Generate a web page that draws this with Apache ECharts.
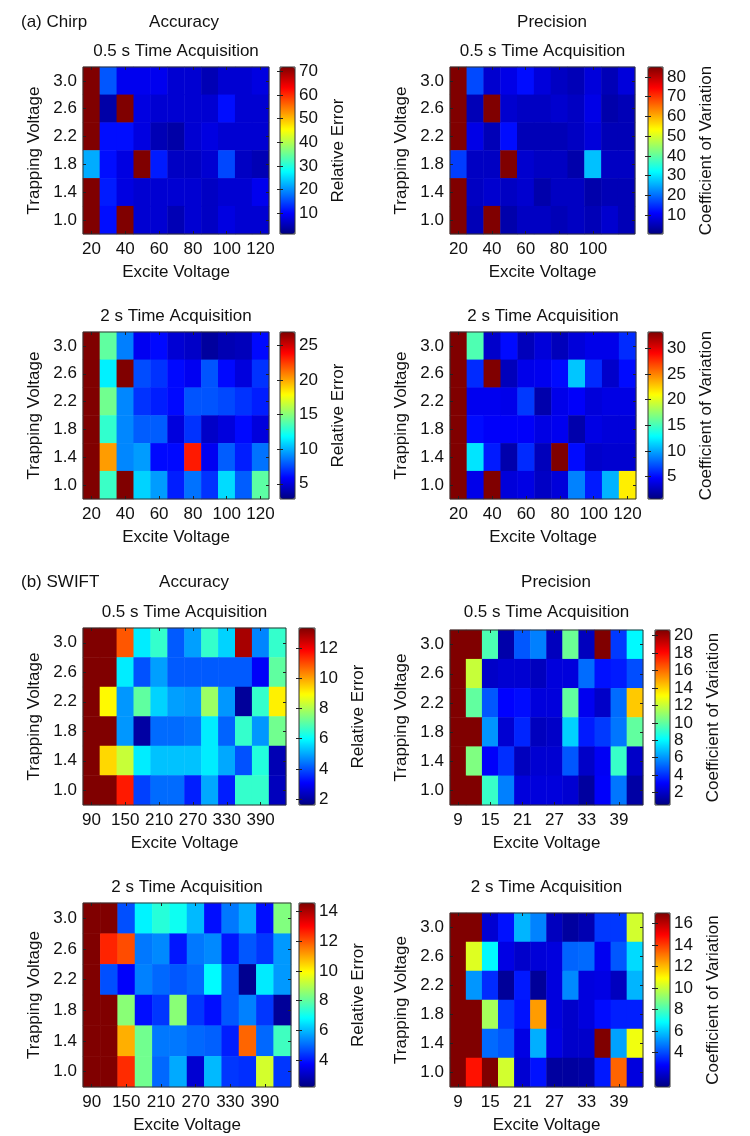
<!DOCTYPE html>
<html>
<head>
<meta charset="utf-8">
<script src="https://cdn.jsdelivr.net/npm/echarts@6/dist/echarts.min.js"></script>
<style>
  html, body { margin: 0; padding: 0; background: #fff; }
  #chart { width: 750px; height: 1136px; }
</style>
</head>
<body>
<div id="chart"></div>
<script>
// categories
const trapVoltages = ['1.0', '1.4', '1.8', '2.2', '2.6', '3.0'];
const chirpExcite = [20, 30, 40, 50, 60, 70, 80, 90, 100, 110, 120];
const swiftAccExcite = [90, 120, 150, 180, 210, 240, 270, 300, 330, 360, 390, 420];
const swiftPrecExcite = [9, 12, 15, 18, 21, 24, 27, 30, 33, 36, 39, 42];

// x tick labels
const chirpTicks = [20, 40, 60, 80, 100, 120];
const chirpPrecTicks05 = [20, 40, 60, 80, 100];
const swiftAccTicks = [90, 150, 210, 270, 330, 390];
const swiftPrecTicks = [9, 15, 21, 27, 33, 39];

// colour scales [min, max] and colorbar tick labels
const chirpAcc05Scale = [1.3, 71.8];
const chirpAcc05Bar = [10, 20, 30, 40, 50, 60, 70];
const chirpPrec05Scale = [0.4, 85];
const chirpPrec05Bar = [10, 20, 30, 40, 50, 60, 70, 80];
const chirpAcc2Scale = [2.8, 26.9];
const chirpAcc2Bar = [5, 10, 15, 20, 25];
const chirpPrec2Scale = [0.6, 33.2];
const chirpPrec2Bar = [5, 10, 15, 20, 25, 30];
const swiftAcc05Scale = [1.6, 13.35];
const swiftAcc05Bar = [2, 4, 6, 8, 10, 12];
const swiftPrec05Scale = [0.58, 20.65];
const swiftPrec05Bar = [2, 4, 6, 8, 10, 12, 14, 16, 18, 20];
const swiftAcc2Scale = [2.2, 14.57];
const swiftAcc2Bar = [4, 6, 8, 10, 12, 14];
const swiftPrec2Scale = [0.8, 17.0];
const swiftPrec2Bar = [4, 6, 8, 10, 12, 14, 16];

// values, rows from 3.0 V (top) down to 1.0 V (bottom)
const chirpAcc05 = [
    [71.8, 16, 9, 9, 9, 7, 7, 5, 7, 7, 8],
    [71.8, 4, 71.8, 8, 7, 7, 7, 7, 11, 7, 7],
    [71.8, 11, 11, 8, 5, 4, 7, 8, 7, 7, 7],
    [22, 11, 8, 71.8, 12, 6, 6, 7, 15, 6, 5],
    [71.8, 12, 8, 7, 7, 7, 7, 6, 7, 7, 9],
    [71.8, 11, 71.8, 7, 7, 5, 7, 6, 8, 7, 7]
];
const chirpPrec05 = [
    [85, 17, 7, 9, 12, 8, 6, 5, 8, 5, 8],
    [85, 5, 85, 7, 6, 6, 7, 6, 9, 4, 5],
    [85, 9, 5, 12, 5, 5, 5, 6, 8, 5, 5],
    [16, 6, 6, 85, 7, 6, 6, 4, 27, 6, 6],
    [85, 6, 7, 6, 7, 4, 6, 6, 4, 5, 5],
    [85, 5, 85, 4, 6, 6, 5, 6, 5, 7, 5]
];
const chirpAcc2 = [
    [26.9, 14.1, 8.8, 5.5, 6, 4.8, 4.5, 3.5, 4, 4.2, 6],
    [26.9, 11.5, 26.9, 7.6, 7, 6, 5.5, 7.8, 6, 5, 7],
    [26.9, 14.5, 9, 7, 6.5, 6, 7.8, 7.8, 7.5, 7, 6.5],
    [26.9, 13, 9, 8, 8, 5, 7, 4.5, 5, 6, 5],
    [26.9, 20.2, 9, 9.5, 6, 6, 23.3, 5.5, 8, 6.5, 8.5],
    [26.9, 13.2, 26.9, 10.8, 9.5, 6.5, 8.5, 7, 11, 8, 14]
];
const chirpPrec2 = [
    [33.2, 15.3, 3, 5, 2.5, 3.5, 2.5, 3.5, 4, 4, 6],
    [33.2, 6, 33.2, 2.5, 4, 4.2, 5, 11, 6, 3, 5],
    [33.2, 4.2, 4.2, 4, 6.5, 2, 4, 4.5, 3.5, 3.8, 3.8],
    [33.2, 5, 4.5, 4.5, 4.5, 3.8, 4.2, 2, 3.8, 3.5, 3.5],
    [33.2, 12, 5.5, 2, 6, 2.5, 33.2, 5, 3, 3.2, 3.2],
    [33.2, 4, 33.2, 3.5, 3.8, 2.8, 3.5, 8.8, 5.5, 10.4, 21.5]
];
const swiftAcc05 = [
    [13.35, 13.35, 10.9, 5.8, 6.6, 4.1, 4.9, 6.6, 5.5, 12.9, 4.6, 6.6],
    [13.35, 13.35, 5.8, 4.0, 4.9, 4.1, 4.1, 4.1, 4.1, 4.1, 3.0, 7.1],
    [13.35, 9.0, 4.8, 7.1, 5.5, 4.9, 4.8, 7.8, 4.8, 1.9, 6.6, 9.1],
    [13.35, 13.35, 4.8, 2.0, 4.3, 4.3, 4.4, 5.8, 4.2, 6.6, 4.8, 7.3],
    [13.35, 9.4, 8.3, 5.8, 5.3, 5.3, 5.3, 5.8, 5.0, 4.0, 6.4, 2.2],
    [13.35, 13.35, 11.6, 3.8, 4.3, 4.3, 3.4, 5.0, 3.4, 6.6, 6.6, 2.3]
];
const swiftPrec05 = [
    [20.65, 20.65, 9.6, 1.4, 4.8, 5.6, 1.8, 10.2, 1.8, 20.65, 4.2, 8.0],
    [20.65, 12.0, 2.0, 2.2, 2.2, 1.8, 2.4, 2.4, 5.2, 3.4, 3.6, 4.6],
    [20.65, 10.0, 4.8, 3.1, 3.3, 2.4, 2.4, 10.0, 2.8, 2.0, 5.2, 14.2],
    [20.65, 20.65, 6.0, 2.2, 3.8, 1.8, 2.0, 7.2, 3.6, 4.2, 5.4, 10.0],
    [20.65, 10.6, 3.0, 4.0, 1.8, 2.2, 2.2, 4.8, 2.0, 2.9, 9.2, 2.0],
    [20.65, 20.65, 9.2, 5.6, 2.4, 2.4, 2.4, 2.2, 1.2, 3.0, 5.4, 1.3]
];
const swiftAcc2 = [
    [14.57, 14.57, 4.7, 6.7, 7.3, 7.0, 6.0, 3.9, 5.2, 5.8, 3.9, 8.4],
    [14.57, 12.6, 12.1, 5.2, 5.4, 4.0, 5.2, 5.4, 4.0, 4.8, 4.4, 5.6],
    [14.57, 4.7, 3.7, 5.3, 5.0, 4.8, 5.0, 6.8, 4.8, 2.4, 6.6, 5.6],
    [14.57, 14.57, 8.5, 3.9, 4.4, 8.5, 4.4, 3.9, 4.8, 5.3, 4.4, 2.5],
    [14.57, 14.57, 10.9, 8.2, 5.2, 5.2, 5.0, 4.9, 4.1, 11.8, 5.0, 7.6],
    [14.57, 14.57, 12.5, 8.2, 5.0, 5.8, 3.2, 6.0, 4.4, 4.3, 9.4, 4.4]
];
const swiftPrec2 = [
    [17, 17, 2.1, 3.1, 5.7, 4.9, 1.8, 1.3, 1.6, 3.7, 3.7, 10.2],
    [17, 10.4, 6.8, 2.4, 2.0, 2.2, 2.3, 4.4, 4.5, 2.6, 4.2, 6.3],
    [17, 5.2, 3.5, 1.2, 3.2, 1.2, 2.3, 5.0, 2.3, 2.4, 1.8, 5.7],
    [17, 17, 9.5, 3.7, 3.1, 12.5, 2.3, 2.0, 2.3, 3.0, 3.3, 3.3],
    [17, 17, 4.5, 4.2, 2.4, 5.6, 2.4, 2.0, 2.0, 17, 5.4, 10.7],
    [17, 14.7, 17, 10.2, 2.1, 3.1, 1.3, 1.3, 1.4, 3.2, 13.4, 2.3]
];

// MATLAB jet
const jet = ['#000080', '#0000ff', '#0080ff', '#00ffff', '#80ff80', '#ffff00', '#ff8000', '#ff0000', '#800000'];
const font = 'Liberation Sans, Arial, Helvetica, sans-serif';
const ink = '#111';
const tickStyle = { color: '#222', width: 1 };
const txt = { fontSize: 17, fontFamily: font, color: ink };

// layout of each panel: plot box and colorbar box [left, top, width, height]
const panels = [
    { values: chirpAcc05, cats: chirpExcite, ticks: chirpTicks, scale: chirpAcc05Scale, bar: chirpAcc05Bar,
      title: '0.5 s Time Acquisition', cbName: 'Relative Error',
      plot: [83, 67, 186, 167], cb: [280, 67, 15, 167], titleY: 51 },
    { values: chirpPrec05, cats: chirpExcite, ticks: chirpPrecTicks05, scale: chirpPrec05Scale, bar: chirpPrec05Bar,
      title: '0.5 s Time Acquisition', cbName: 'Coefficient of Variation',
      plot: [450, 67, 185, 167], cb: [648, 67, 15, 167], titleY: 51 },
    { values: chirpAcc2, cats: chirpExcite, ticks: chirpTicks, scale: chirpAcc2Scale, bar: chirpAcc2Bar,
      title: '2 s Time Acquisition', cbName: 'Relative Error',
      plot: [83, 332, 186, 167], cb: [280, 332, 15, 167], titleY: 316 },
    { values: chirpPrec2, cats: chirpExcite, ticks: chirpTicks, scale: chirpPrec2Scale, bar: chirpPrec2Bar,
      title: '2 s Time Acquisition', cbName: 'Coefficient of Variation',
      plot: [450, 332, 186, 167], cb: [648, 332, 15, 167], titleY: 316 },
    { values: swiftAcc05, cats: swiftAccExcite, ticks: swiftAccTicks, scale: swiftAcc05Scale, bar: swiftAcc05Bar,
      title: '0.5 s Time Acquisition', cbName: 'Relative Error',
      plot: [83, 628, 203, 177], cb: [299, 628, 16, 177], titleY: 612 },
    { values: swiftPrec05, cats: swiftPrecExcite, ticks: swiftPrecTicks, scale: swiftPrec05Scale, bar: swiftPrec05Bar,
      title: '0.5 s Time Acquisition', cbName: 'Coefficient of Variation',
      plot: [450, 630, 193, 175], cb: [655, 630, 15, 175], titleY: 612 },
    { values: swiftAcc2, cats: swiftAccExcite, ticks: swiftAccTicks, scale: swiftAcc2Scale, bar: swiftAcc2Bar,
      title: '2 s Time Acquisition', cbName: 'Relative Error',
      plot: [83, 903, 208, 184], cb: [299, 903, 16, 184], titleY: 887 },
    { values: swiftPrec2, cats: swiftPrecExcite, ticks: swiftPrecTicks, scale: swiftPrec2Scale, bar: swiftPrec2Bar,
      title: '2 s Time Acquisition', cbName: 'Coefficient of Variation',
      plot: [450, 913, 193, 174], cb: [655, 913, 15, 174], titleY: 887 }
];

const grid = [], xAxis = [], yAxis = [], series = [], visualMap = [], graphic = [];

function label(text, x, y, align) {
    graphic.push({
        type: 'text', x: x, y: y, silent: true,
        style: { text: text, font: '17px ' + font, fill: ink, textAlign: align || 'center', textVerticalAlign: 'middle' }
    });
}

panels.forEach((p, i) => {
    const [pl, pt, pw, ph] = p.plot;
    const [cl, ct, cw, chh] = p.cb;
    const g = i * 2;
    const step = p.cats[1] - p.cats[0];
    const xMin = p.cats[0] - step / 2;
    const xMax = p.cats[p.cats.length - 1] + step / 2;

    grid.push({ left: pl, top: pt, width: pw, height: ph, show: true, z: 5, outerBoundsMode: 'none',
                backgroundColor: 'transparent', borderColor: '#333', borderWidth: 1 });
    grid.push({ left: cl, top: ct, width: cw, height: chh, show: true, z: 5, outerBoundsMode: 'none',
                backgroundColor: 'transparent', borderColor: '#333', borderWidth: 1 });

    // x axes: 0 category (cells), 1 value bottom (labels), 2 value top (mirrored ticks), 3 colorbar
    xAxis.push({ type: 'category', gridIndex: g, data: p.cats.map(String), show: false });
    xAxis.push({
        type: 'value', gridIndex: g, min: xMin, max: xMax, position: 'bottom', z: 6,
        axisLine: { show: false }, splitLine: { show: false },
        axisTick: { show: true, inside: true, length: 3, customValues: p.ticks, lineStyle: tickStyle },
        axisLabel: Object.assign({ customValues: p.ticks, margin: 7 }, txt),
        name: 'Excite Voltage', nameLocation: 'middle', nameGap: 30, nameTextStyle: txt
    });
    xAxis.push({
        type: 'value', gridIndex: g, min: xMin, max: xMax, position: 'top', z: 6,
        axisLine: { show: false }, splitLine: { show: false }, axisLabel: { show: false },
        axisTick: { show: true, inside: true, length: 3, customValues: p.ticks, lineStyle: tickStyle }
    });
    xAxis.push({ type: 'value', gridIndex: g + 1, min: 0, max: 1, show: false });

    // y axes: 0 category left (labels), 1 category right (ticks), 2 colorbar right, 3 colorbar left
    yAxis.push({
        type: 'category', gridIndex: g, data: trapVoltages, position: 'left', z: 6,
        axisLine: { show: false }, splitLine: { show: false },
        axisTick: { show: true, inside: true, length: 3, alignWithLabel: true, lineStyle: tickStyle },
        axisLabel: Object.assign({ margin: 6 }, txt),
        name: 'Trapping Voltage', nameLocation: 'middle', nameGap: 40, nameRotate: 90, nameTextStyle: txt
    });
    yAxis.push({
        type: 'category', gridIndex: g, data: trapVoltages, position: 'right', z: 6,
        axisLine: { show: false }, splitLine: { show: false }, axisLabel: { show: false },
        axisTick: { show: true, inside: true, length: 3, alignWithLabel: true, lineStyle: tickStyle }
    });
    yAxis.push({
        type: 'value', gridIndex: g + 1, min: p.scale[0], max: p.scale[1], position: 'right', z: 6,
        axisLine: { show: false }, splitLine: { show: false },
        axisTick: { show: true, inside: true, length: 3, customValues: p.bar, lineStyle: tickStyle },
        axisLabel: Object.assign({ customValues: p.bar, margin: 4 }, txt),
        name: p.cbName, nameLocation: 'middle', nameGap: 35, nameRotate: 90, nameTextStyle: txt
    });
    yAxis.push({
        type: 'value', gridIndex: g + 1, min: p.scale[0], max: p.scale[1], position: 'left', z: 6,
        axisLine: { show: false }, splitLine: { show: false }, axisLabel: { show: false },
        axisTick: { show: true, inside: true, length: 3, customValues: p.bar, lineStyle: tickStyle }
    });

    const data = [];
    p.values.forEach((row, r) => {
        row.forEach((v, c) => data.push([c, p.values.length - 1 - r, v]));
    });
    series.push({ type: 'heatmap', xAxisIndex: i * 4, yAxisIndex: i * 4, data: data, silent: true });

    visualMap.push({
        type: 'continuous', seriesIndex: i, min: p.scale[0], max: p.scale[1],
        calculable: false, hoverLink: false, orient: 'vertical', padding: 0,
        left: cl, top: ct, itemWidth: cw, itemHeight: chh,
        showLabel: false, inRange: { color: jet }
    });

    label(p.title, pl + pw / 2, p.titleY);
});

label('(a) Chirp', 21, 22, 'left');
label('Accuracy', 184, 22);
label('Precision', 552, 22);
label('(b) SWIFT', 21, 582, 'left');
label('Accuracy', 194, 582);
label('Precision', 556, 582);

const chart = echarts.init(document.getElementById('chart'));
chart.setOption({
    backgroundColor: '#fff',
    animation: false,
    textStyle: { fontFamily: font },
    grid: grid,
    xAxis: xAxis,
    yAxis: yAxis,
    visualMap: visualMap,
    series: series,
    graphic: graphic
});
</script>
</body>
</html>
